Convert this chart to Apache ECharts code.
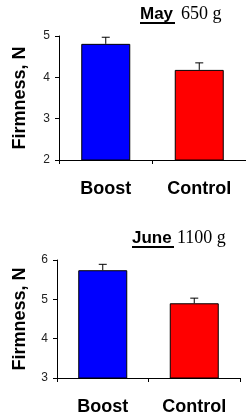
<!DOCTYPE html>
<html>
<head>
<meta charset="utf-8">
<script src="https://cdn.jsdelivr.net/npm/echarts@6/dist/echarts.min.js"></script>
<style>
html,body{margin:0;padding:0;background:#fff;}
#chart{width:246px;height:419px;}
</style>
</head>
<body>
<div id="chart"></div>
<script>
let groups = ['Boost', 'Control'];
let barColors = ['#0000ff', '#ff0000'];
// May, 650 g
let mayMeans = [4.81, 4.18];
let mayErrTop = [4.97, 4.35];
// June, 1100 g
let juneMeans = [5.74, 4.90];
let juneErrTop = [5.89, 5.03];

let myChart = echarts.init(document.getElementById('chart'));

let barData = function (vals) {
    return vals.map(function (v, i) {
        return {value: v, itemStyle: {color: barColors[i]}};
    });
};
let errData = function (means, tops) {
    return means.map(function (v, i) {
        return [i, v, tops[i]];
    });
};
let renderErr = function (params, api) {
    let base = api.coord([api.value(0), api.value(1)]);
    let top = api.coord([api.value(0), api.value(2)]);
    let cap = 4;
    return {
        type: 'group',
        children: [
            {type: 'line', shape: {x1: base[0], y1: base[1], x2: top[0], y2: top[1]}, style: {stroke: '#000', lineWidth: 1}},
            {type: 'line', shape: {x1: top[0] - cap, y1: top[1], x2: top[0] + cap, y2: top[1]}, style: {stroke: '#000', lineWidth: 1}}
        ]
    };
};
let xAxisOf = function (idx) {
    return {
        type: 'category', gridIndex: idx, data: groups,
        axisLine: {lineStyle: {color: '#000', width: 1}},
        axisTick: {show: true, length: 4, lineStyle: {color: '#000'}},
        axisLabel: {margin: 20, fontFamily: 'Liberation Sans', fontWeight: 'bold', fontSize: 18, color: '#000'}
    };
};
let yAxisOf = function (idx, min, max, gap) {
    return {
        type: 'value', gridIndex: idx, min: min, max: max, interval: 1,
        name: 'Firmness, N', nameLocation: 'middle', nameGap: gap,
        nameTextStyle: {fontFamily: 'Liberation Sans', fontWeight: 'bold', fontSize: 18, color: '#000'},
        axisLine: {show: true, lineStyle: {color: '#000', width: 1}},
        axisTick: {show: true, length: 4, lineStyle: {color: '#000'}},
        splitLine: {show: false},
        axisLabel: {margin: 9, fontFamily: 'Liberation Sans', fontSize: 12, color: '#222'}
    };
};
let monthTitle = function (text, left, top) {
    return {
        text: text, left: left, top: top, padding: 0,
        textStyle: {fontFamily: 'Liberation Sans', fontWeight: 'bold', fontSize: 17, color: '#000'}
    };
};
let weightTitle = function (text, left, top) {
    return {
        text: text, left: left, top: top, padding: 0,
        textStyle: {fontFamily: 'Liberation Serif', fontWeight: 'normal', fontSize: 18, color: '#000'}
    };
};

let option = {
    animation: false,
    title: [
        monthTitle('May', 140, 6),
        weightTitle('650 g', 181, 5),
        monthTitle('June', 132, 230),
        weightTitle('1100 g', 177, 229)
    ],
    graphic: [
        {type: 'rect', shape: {x: 140, y: 22, width: 35, height: 2}, style: {fill: '#000'}},
        {type: 'rect', shape: {x: 132, y: 246, width: 42, height: 2}, style: {fill: '#000'}}
    ],
    grid: [
        {left: 59, right: 0, top: 36, height: 124},
        {left: 57, right: 6, top: 260, height: 118}
    ],
    xAxis: [xAxisOf(0), xAxisOf(1)],
    yAxis: [yAxisOf(0, 2, 5, 30), yAxisOf(1, 3, 6, 28)],
    series: [
        {
            type: 'bar', xAxisIndex: 0, yAxisIndex: 0, barWidth: 49,
            itemStyle: {borderColor: '#000', borderWidth: 1},
            data: barData(mayMeans)
        },
        {
            type: 'custom', xAxisIndex: 0, yAxisIndex: 0, z: 3,
            renderItem: renderErr, data: errData(mayMeans, mayErrTop)
        },
        {
            type: 'bar', xAxisIndex: 1, yAxisIndex: 1, barWidth: 49,
            itemStyle: {borderColor: '#000', borderWidth: 1},
            data: barData(juneMeans)
        },
        {
            type: 'custom', xAxisIndex: 1, yAxisIndex: 1, z: 3,
            renderItem: renderErr, data: errData(juneMeans, juneErrTop)
        }
    ]
};
myChart.setOption(option);
</script>
</body>
</html>
